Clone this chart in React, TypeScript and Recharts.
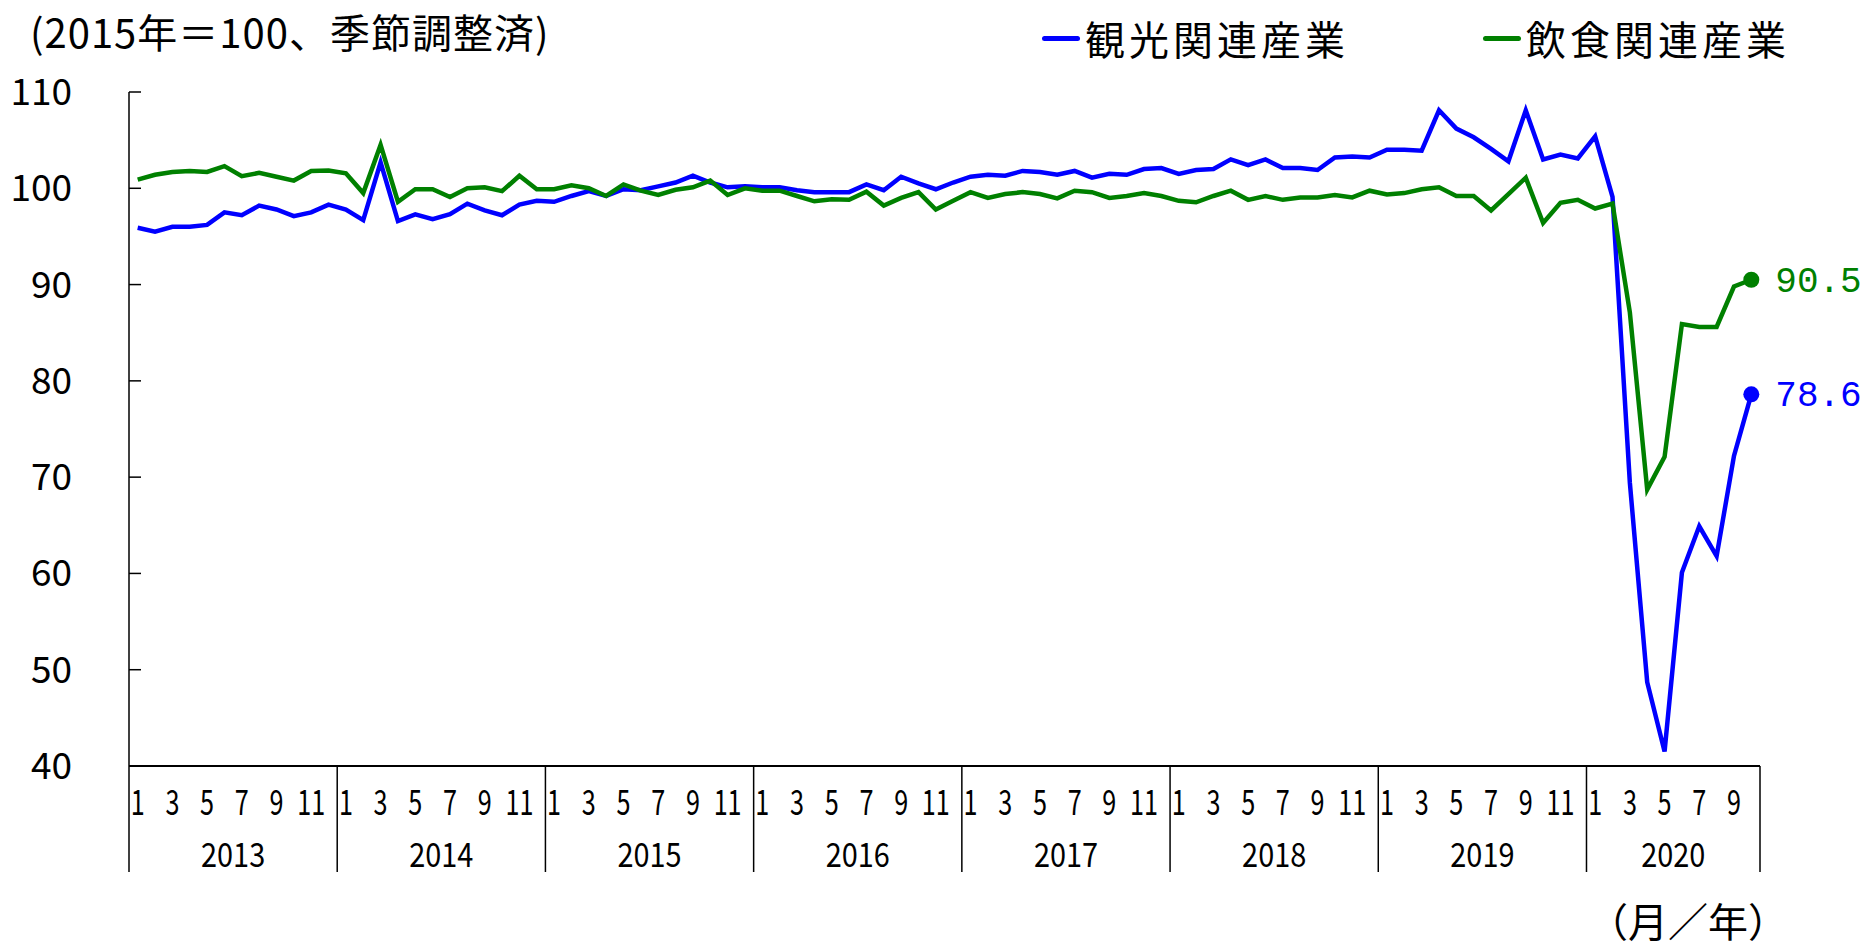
import { LineChart, Line, XAxis, YAxis } from 'recharts';

// 2013-01 .. 2020-10, monthly, 2015 = 100, seasonally adjusted
const years = ['2013', '2014', '2015', '2016', '2017', '2018', '2019', '2020'];

const kanko = [
  95.9, 95.5, 96.0, 96.0, 96.2, 97.5, 97.2, 98.2, 97.8, 97.1, 97.5, 98.3,
  97.8, 96.7, 102.7, 96.6, 97.3, 96.8, 97.3, 98.4, 97.7, 97.2, 98.3, 98.7,
  98.6, 99.2, 99.7, 99.2, 99.9, 99.8, 100.2, 100.6, 101.3, 100.6, 100.1, 100.2,
  100.1, 100.1, 99.8, 99.6, 99.6, 99.6, 100.4, 99.8, 101.2, 100.5, 99.9, 100.6,
  101.2, 101.4, 101.3, 101.8, 101.7, 101.4, 101.8, 101.1, 101.5, 101.4, 102.0, 102.1,
  101.5, 101.9, 102.0, 103.0, 102.4, 103.0, 102.1, 102.1, 101.9, 103.2, 103.3, 103.2,
  104.0, 104.0, 103.9, 108.1, 106.2, 105.3, 104.1, 102.8, 108.1, 103.0, 103.5, 103.1,
  105.4, 99.1, 69.4, 48.7, 41.5, 60.1, 64.9, 61.8, 72.2, 78.6,
];

const inshoku = [
  100.9, 101.4, 101.7, 101.8, 101.7, 102.3, 101.25, 101.6, 101.2, 100.8, 101.8, 101.85,
  101.55, 99.5, 104.5, 98.6, 99.9, 99.9, 99.1, 100.0, 100.1, 99.7, 101.3, 99.9,
  99.9, 100.3, 100.0, 99.2, 100.4, 99.75, 99.3, 99.85, 100.1, 100.8, 99.3, 100.0,
  99.75, 99.75, 99.2, 98.65, 98.85, 98.8, 99.65, 98.2, 99.0, 99.6, 97.8, 98.7,
  99.6, 99.0, 99.4, 99.6, 99.4, 98.95, 99.75, 99.6, 99.0, 99.2, 99.5, 99.2,
  98.7, 98.55, 99.2, 99.75, 98.8, 99.2, 98.8, 99.05, 99.05, 99.3, 99.05, 99.75,
  99.35, 99.5, 99.9, 100.1, 99.2, 99.2, 97.7, 99.4, 101.1, 96.4, 98.5, 98.8,
  97.9, 98.4, 87.1, 68.7, 72.1, 85.9, 85.6, 85.6, 89.8, 90.5,
];

const yTicks = [40, 50, 60, 70, 80, 90, 100, 110];

const BLUE = '#0000ff';
const GREEN = '#008000';
const JP = '"Noto Sans CJK JP", sans-serif';

const data = kanko.map((v, i) => ({ i, kanko: v, inshoku: inshoku[i] }));
const last = data.length - 1;

// month labels on odd months, dividers at year boundaries, year names in the middle
const monthTicks = data.filter((d) => d.i % 12 % 2 === 0).map((d) => d.i);
const boundaryTicks = years.map((_, k) => k * 12 - 0.5).concat([last + 0.5]);
const yearTicks = years.map((_, k) => (k * 12 - 0.5 + Math.min(k * 12 + 11.5, last + 0.5)) / 2);
const xTicks = [...monthTicks, ...boundaryTicks, ...yearTicks];

function XTick(props: any) {
  const { x, y, payload } = props;
  const v = payload.value;
  const bi = boundaryTicks.indexOf(v);
  if (bi >= 0) {
    return <line x1={x} x2={x} y1={y} y2={y + 106} stroke="#000" strokeWidth={1.5} />;
  }
  const yi = yearTicks.indexOf(v);
  if (yi >= 0) {
    return (
      <g transform={`translate(${x},${y + 101})`}>
        <text transform="scale(0.85,1)" textAnchor="middle" fontFamily={JP} fontSize={34} fill="#000">
          {years[yi]}
        </text>
      </g>
    );
  }
  return (
    <g transform={`translate(${x},${y + 49})`}>
      <text transform="scale(0.72,1)" textAnchor="middle" fontFamily={JP} fontSize={35} fill="#000">
        {(v % 12) + 1}
      </text>
    </g>
  );
}

function YTick(props: any) {
  const { x, y, payload } = props;
  return (
    <g>
      <line x1={x} x2={x + 12} y1={y} y2={y} stroke="#000" strokeWidth={1.5} />
      <text x={x - 57} y={y} dy={13} textAnchor="end" fontFamily={JP} fontSize={37} fill="#000">
        {payload.value}
      </text>
    </g>
  );
}

function endDot(color: string) {
  return (p: any) =>
    p.index === last ? (
      <circle key={p.index} cx={p.cx} cy={p.cy} r={8} fill={color} stroke="none" />
    ) : (
      <g key={p.index} />
    );
}

function endLabel(color: string) {
  return (p: any) =>
    p.index === last ? (
      <text x={p.x + 24} y={p.y} dy={12} fontFamily='"Liberation Mono", monospace' fontSize={36} fill={color}>
        {p.value}
      </text>
    ) : null;
}

export default function App() {
  return (
    <div style={{ position: 'relative', width: 1865, height: 948, background: '#fff', overflow: 'hidden' }}>
      <style>{'body{margin:0}'}</style>
      <div style={{ position: 'absolute', left: 30, top: 10, fontFamily: JP, fontSize: 40, lineHeight: '42px', letterSpacing: 1 }}>
        (2015年＝100、季節調整済)
      </div>
      <div style={{ position: 'absolute', left: 1042, top: 16, display: 'flex', alignItems: 'center', fontFamily: JP, fontSize: 40, lineHeight: '44px', letterSpacing: 4 }}>
        <span style={{ width: 38, height: 5, background: BLUE, borderRadius: 3, marginRight: 5 }} />
        <span>観光関連産業</span>
      </div>
      <div style={{ position: 'absolute', left: 1483, top: 16, display: 'flex', alignItems: 'center', fontFamily: JP, fontSize: 40, lineHeight: '44px', letterSpacing: 4 }}>
        <span style={{ width: 38, height: 5, background: GREEN, borderRadius: 3, marginRight: 5 }} />
        <span>飲食関連産業</span>
      </div>
      <div style={{ position: 'absolute', left: 1588, top: 898, fontFamily: JP, fontSize: 40, lineHeight: '44px' }}>
        （月／年）
      </div>
      <LineChart width={1865} height={948} data={data} margin={{ top: 92, right: 105, left: 0, bottom: 72 }}>
        <XAxis
          dataKey="i"
          type="number"
          domain={[-0.5, last + 0.5]}
          ticks={xTicks}
          interval={0}
          tickLine={false}
          tickSize={0}
          tickMargin={0}
          tick={<XTick />}
          axisLine={{ stroke: '#000', strokeWidth: 2 }}
          height={110}
          allowDataOverflow
        />
        <YAxis
          domain={[40, 110]}
          ticks={yTicks}
          interval={0}
          width={129}
          tickLine={false}
          tickSize={0}
          tickMargin={0}
          tick={<YTick />}
          axisLine={{ stroke: '#000', strokeWidth: 1.5 }}
          allowDataOverflow
        />
        <Line
          dataKey="kanko"
          stroke={BLUE}
          strokeWidth={4.5}
          dot={endDot(BLUE)}
          activeDot={false}
          label={endLabel(BLUE)}
          isAnimationActive={false}
        />
        <Line
          dataKey="inshoku"
          stroke={GREEN}
          strokeWidth={4.5}
          dot={endDot(GREEN)}
          activeDot={false}
          label={endLabel(GREEN)}
          isAnimationActive={false}
        />
      </LineChart>
    </div>
  );
}
